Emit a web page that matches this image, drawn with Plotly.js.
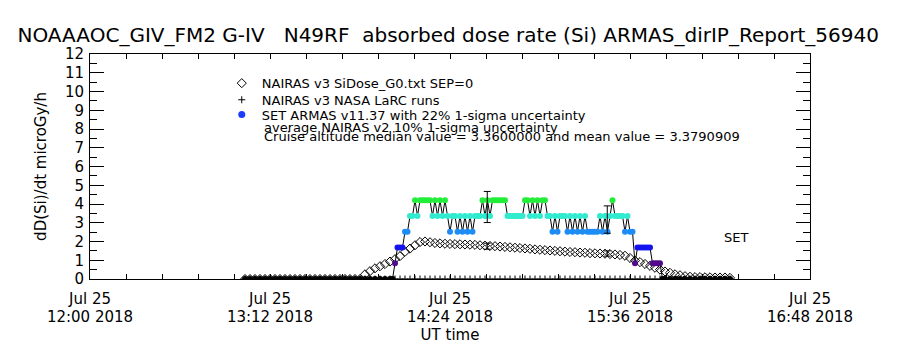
<!DOCTYPE html>
<html><head><meta charset="utf-8">
<script src="https://cdn.plot.ly/plotly-3.0.1.min.js"></script>
<style>html,body{margin:0;padding:0;background:#fff}#chart{width:900px;height:350px}</style>
</head><body><div id="chart"></div>
<script>
// ---- DATA (time = minutes after 12:00 UT, 25 Jul 2018) ----
const titleText = 'NOAAAOC_GIV_FM2 G-IV   N49RF  absorbed dose rate (Si) ARMAS_dirIP_Report_56940';
const xTickVals = [0, 72, 144, 216, 288];
const xTickDate = ['Jul 25', 'Jul 25', 'Jul 25', 'Jul 25', 'Jul 25'];
const xTickTime = ['12:00 2018', '13:12 2018', '14:24 2018', '15:36 2018', '16:48 2018'];

const nairasTime = [62,64,66,68,70,72,74,76,78,80,82,84,86,88,90,92,94,96,98,100,102,104,106,108,
  110,112,114,116,118,120,122,124,126,128,
  130,132,134,136,138,140,142,144,146,148,
  150,152,154,156,158,160,162,164,166,168,
  170,172,174,176,178,180,182,184,186,188,
  190,192,194,196,198,200,202,204,206,208,
  210,212,214,216,218,220,222,224,226,228,
  230,232,234,236,238,240,242,244,246,248,
  250,252,254,256];
const nairasDose = [0,0,0,0,0,0,0,0,0,0,0,0,0,0,0,0,0,0,0,0,0,0,0,0,
  0.25,0.42,0.57,0.68,0.80,0.93,1.06,1.22,1.45,1.62,
  1.80,1.97,2.00,1.96,1.92,1.90,1.88,1.87,1.86,1.85,
  1.84,1.83,1.82,1.80,1.78,1.76,1.75,1.73,1.71,1.69,
  1.67,1.65,1.63,1.61,1.58,1.56,1.54,1.52,1.50,1.48,
  1.46,1.44,1.43,1.41,1.40,1.38,1.37,1.36,1.35,1.33,
  1.31,1.28,1.24,1.12,0.98,0.90,0.80,0.70,0.60,0.50,
  0.40,0.33,0.25,0.20,0.15,0.12,0.10,0.10,0.09,0.09,
  0.08,0.08,0.08,0.06];
const larcDose = [0,0,0,0,0,0,0,0,0,0,0,0,0,0,
  0,0,0,0,0,0,0,0,0,0,0,0,0,0,
  0,0,0,0,0,0,0,0,0,0,0,0,0,0,
  0,0,0,0,0,0,0,0,0,0,0,0,0,0,
  0,0,0,0,0,0,0,0,0,0,0,0,0,0,
  0,0,0,0,0,0,0,0,0,0,0,0,0,0,
  0,0,0,0,0,0,0,0,0,0,0,0,0,0];

const armasTime = [62,64,66,68,70,72,74,76,78,80,82,84,86,88,90,92,94,96,98,100,102,104,106,108,110,112,114,116,118,120,
  121,122,123,124,125,126,127,128,129,130,
  131,132,133,134,135,136,137,138,139,140,
  141,142,143,144,145,146,147,148,149,150,
  151,152,153,154,155,156,157,158,159,160,
  161,162,163,164,165,166,167,168,169,170,
  171,172,173,174,175,176,177,178,179,180,
  181,182,183,184,185,186,187,188,189,190,
  191,192,193,194,195,196,197,198,199,200,
  201,202,203,204,205,206,207,208,209,210,
  211,212,213,214,215,216,217,218,219,220,
  221,222,223,224,225,226,227,228,229,
  230,232,234,236,238,240,242,244,246,248,250,252,254,256];
const armasDose = [0,0,0,0,0,0,0,0,0,0,0,0,0,0,0,0,0,0,0,0,0,0,0,0,0,0,0,0,0,0,
  0,0.84,1.68,1.68,1.68,2.52,2.52,3.36,3.36,4.20,
  3.36,4.20,4.20,4.20,4.20,4.20,3.36,4.20,3.36,4.20,
  3.36,4.20,3.36,2.52,3.36,3.36,2.52,3.36,2.52,3.36,
  2.52,3.36,2.52,3.36,3.36,3.36,4.20,3.36,4.20,3.36,
  4.20,4.20,4.20,4.20,4.20,4.20,3.36,3.36,3.36,3.36,
  3.36,3.36,3.36,4.20,4.20,3.36,4.20,3.36,4.20,3.36,
  4.20,4.20,3.36,3.36,2.52,3.36,2.52,3.36,3.36,3.36,
  2.52,3.36,2.52,3.36,2.52,3.36,2.52,3.36,2.52,2.52,
  2.52,2.52,2.52,3.36,2.52,3.36,2.52,3.36,4.20,3.36,
  3.36,3.36,3.36,2.52,3.36,2.52,2.52,0.84,1.68,1.68,
  1.68,1.68,1.68,1.68,0.84,0.84,0.84,0.84,0,
  0,0,0,0,0,0,0,0,0,0,0,0,0,0];

const armasErrTime = [158.9, 206.9];
const armasErrMean = [3.84, 3.17];
const armasErrSigma = [0.83, 0.73];
const nairasErrTime = [158.9, 206.9];
const nairasErrMean = [1.75, 1.36];
const nairasErrSigma = [0.16, 0.14];

const armasLevels = [0, 0.84, 1.68, 2.52, 3.36, 4.20];
const armasLevelColors = ['#000000', '#520a8c', '#1414f0', '#1e8cf5', '#30ebcf', '#22ee3a'];

const seriesNames = ['NAIRAS v3 SiDose_G0.txt SEP=0', 'NAIRAS v3 NASA LaRC runs', 'SET ARMAS v11.37 with 22% 1-sigma uncertainty'];
const noteLines = ['average NAIRAS v2 10% 1-sigma uncertainty', 'Cruise altitude median value = 3.3600000 and mean value = 3.3790909'];

// ---- BUILD ----
const FONT = 'DejaVu Sans';
function levelColor(v) {
  let best = 0;
  for (let i = 1; i < armasLevels.length; i++) {
    if (Math.abs(armasLevels[i] - v) < Math.abs(armasLevels[best] - v)) best = i;
  }
  return armasLevelColors[best];
}
const armasColors = armasDose.map(levelColor);

const traces = [
  {type:'scatter', mode:'markers', x:nairasTime, y:nairasDose, name:seriesNames[0], legend:'legend',
   marker:{symbol:'diamond-open', size:7, color:'#000', line:{width:1, color:'#000'}}, hoverinfo:'skip'},
  {type:'scatter', mode:'markers', x:nairasTime, y:larcDose, name:seriesNames[1], legend:'legend2',
   marker:{symbol:'cross-thin', size:5, color:'#000', line:{width:1, color:'#000'}}, hoverinfo:'skip'},
  {type:'scatter', mode:'lines+markers', x:armasTime, y:armasDose, showlegend:false,
   line:{color:'#000', width:1}, marker:{symbol:'circle', size:6, color:armasColors, line:{width:0}}, hoverinfo:'skip'},
  {type:'scatter', mode:'markers', x:[null], y:[null], name:seriesNames[2], legend:'legend3',
   marker:{symbol:'circle', size:7, color:'#1a3cff'}},
  {type:'scatter', mode:'markers', x:armasErrTime, y:armasErrMean, xaxis:'x2', showlegend:false,
   marker:{size:1, color:'rgba(0,0,0,0)'},
   error_y:{type:'data', array:armasErrSigma, visible:true, color:'#000', thickness:1, width:3.5}, hoverinfo:'skip'},
  {type:'scatter', mode:'markers', x:nairasErrTime, y:nairasErrMean, xaxis:'x2', showlegend:false,
   marker:{size:1, color:'rgba(0,0,0,0)'},
   error_y:{type:'data', array:nairasErrSigma, visible:true, color:'#000', thickness:1, width:3.5}, hoverinfo:'skip'}
];

const axisCommon = {showline:true, linecolor:'#000', linewidth:1, mirror:'ticks', showgrid:false, zeroline:false,
  ticks:'inside', tickcolor:'#000', tickwidth:1};
const legendCommon = {x:0.183, xanchor:'left', yanchor:'top', bgcolor:'rgba(0,0,0,0)', borderwidth:0,
  font:{family:FONT, size:13, color:'#000'}};
const noteFont = {family:FONT, size:13, color:'#000'};

const layout = {
  width:900, height:350,
  margin:{l:90, r:90, t:54, b:71},
  paper_bgcolor:'#fff', plot_bgcolor:'#fff',
  font:{family:FONT, color:'#000'},
  title:{text:titleText, font:{family:FONT, size:20, color:'#000'}, x:0.498, xanchor:'center', xref:'container', yref:'container', y:1-35/350, yanchor:'middle'},
  xaxis:Object.assign({}, axisCommon, {
    range:[0,288], tickmode:'array', tickvals:xTickVals, ticktext:xTickTime, ticklen:5,
    minor:{tickmode:'linear', tick0:0, dtick:14.4, ticks:'inside', ticklen:5, tickcolor:'#000', showgrid:false},
    tickfont:{family:FONT, size:15, color:'#000'}, ticklabelstandoff:24,
    title:{text:'UT time', font:{family:FONT, size:15, color:'#000'}, standoff:1}
  }),
  xaxis2:{overlaying:'x', anchor:'y', side:'bottom', range:[0,288], tickmode:'array', tickvals:xTickVals, ticktext:xTickDate,
    ticks:'', showline:false, showgrid:false, zeroline:false, tickfont:{family:FONT, size:15, color:'#000'}, ticklabelstandoff:9},
  yaxis:Object.assign({}, axisCommon, {
    range:[0,12], tickmode:'linear', tick0:0, dtick:1, ticklen:14,
    minor:{tickmode:'linear', tick0:0, dtick:0.5, ticks:'inside', ticklen:7, tickcolor:'#000', showgrid:false},
    tickfont:{family:FONT, size:15, color:'#000'}, ticklabelstandoff:2,
    title:{text:'dD(Si)/dt microGy/h', font:{family:FONT, size:15, color:'#000'}, standoff:14}
  }),
  legend:Object.assign({}, legendCommon, {y:(279-68.2)/225}),
  legend2:Object.assign({}, legendCommon, {y:(279-84.8)/225}),
  legend3:Object.assign({}, legendCommon, {y:(279-99.5)/225}),
  annotations:[
    {text:noteLines[0], xref:'paper', yref:'paper', x:(262-90)/720, y:(279-127)/225, xanchor:'left', yanchor:'middle', showarrow:false, font:noteFont},
    {text:noteLines[1], xref:'paper', yref:'paper', x:(262-90)/720, y:(279-136)/225, xanchor:'left', yanchor:'middle', showarrow:false, font:noteFont},
    {text:'SET', xref:'paper', yref:'paper', x:(736-90)/720, y:(279-237)/225, xanchor:'center', yanchor:'middle', showarrow:false, font:noteFont}
  ]
};

Plotly.newPlot('chart', traces, layout, {staticPlot:true, displayModeBar:false});
</script></body></html>
